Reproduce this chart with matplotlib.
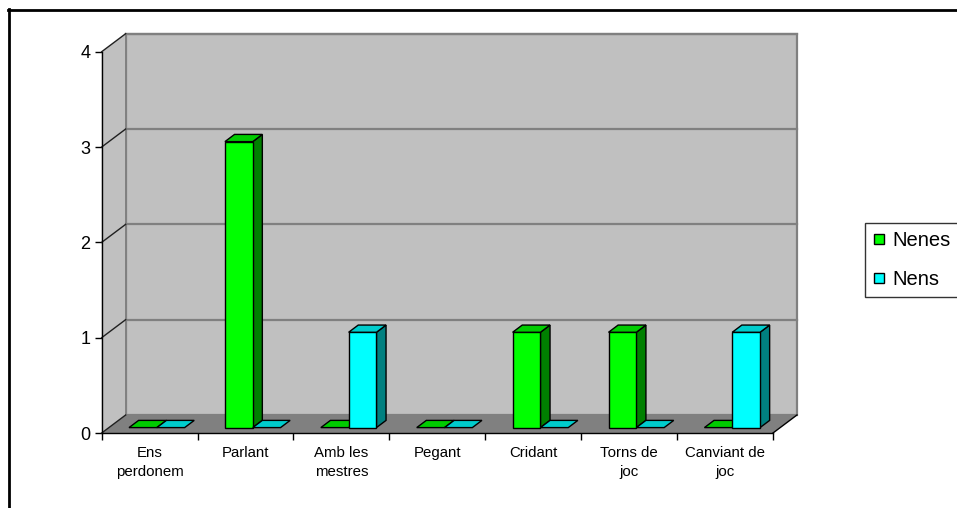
import matplotlib
matplotlib.use("Agg")
import matplotlib.pyplot as plt
from matplotlib.patches import Polygon, Rectangle
from matplotlib.lines import Line2D

plt.rcParams["font.family"] = ["Liberation Sans", "DejaVu Sans"]

categories = ["Ens\nperdonem", "Parlant", "Amb les\nmestres", "Pegant",
              "Cridant", "Torns de\njoc", "Canviant de\njoc"]
nenes = [0, 3, 0, 0, 1, 1, 0]
nens = [0, 0, 1, 0, 0, 0, 1]
series = [("Nenes", nenes), ("Nens", nens)]
y_ticks = [0, 1, 2, 3, 4]

# colours: front face, top face, side face
COLORS = {
    "Nenes": ("#00FF00", "#00CC00", "#008000"),
    "Nens": ("#00FFFF", "#00CCCC", "#008080"),
}
WALL = "#C0C0C0"
FLOOR = "#808080"
GRID = "#808080"

DX, DY = 0.25, 0.189      # depth of the box (data units)
F0, F1 = 0.3, 0.7         # bars sit between these depth fractions
BAR_W = 0.29
GAP0 = 0.5 - BAR_W

W, H = 957, 508
fig = plt.figure(figsize=(W / 100, H / 100), dpi=100)
ax = fig.add_axes([101.7 / W, (H - 433) / H, (773 - 101.7) / W, (433 - 51.7) / H])
n = len(categories)
ymax = y_ticks[-1]
ax.set_xlim(0, n)
ax.set_ylim(0, ymax)
ax.patch.set_visible(False)
for s in ("top", "right"):
    ax.spines[s].set_visible(False)
ax.spines["left"].set_linewidth(1.0)
ax.spines["bottom"].set_linewidth(1.0)
ax.spines["left"].set_zorder(6)
ax.spines["bottom"].set_zorder(6)


def poly(pts, fc, ec="black", lw=1.0, z=2):
    ax.add_patch(Polygon(pts, closed=True, facecolor=fc, edgecolor=ec,
                         linewidth=lw, zorder=z, clip_on=False,
                         joinstyle="miter"))


# back wall, side wall, floor
ax.add_patch(Rectangle((DX, DY), n, ymax, facecolor=WALL, edgecolor=GRID,
                       linewidth=1.6, zorder=1, clip_on=False))
poly([(0, 0), (DX, DY), (DX, ymax + DY), (0, ymax)], WALL, ec="none", z=1)
poly([(0, 0), (n, 0), (n + DX, DY), (DX, DY)], FLOOR, ec="none", z=1.5)
for t in y_ticks:
    if t > 0:
        ax.plot([DX, n + DX], [t + DY, t + DY], color=GRID, lw=1.6,
                zorder=1.2, clip_on=False)
    ax.plot([0, DX], [t, t + DY], color="#202020", lw=1.0, zorder=1.6,
            clip_on=False)
ax.plot([DX, DX], [DY, ymax + DY], color=GRID, lw=1.4, zorder=1.3, clip_on=False)
ax.plot([n, n + DX], [0, DY], color="black", lw=1.0, zorder=1.6, clip_on=False)

# bars
b0 = F0 * DY
ddx, ddy = (F1 - F0) * DX, (F1 - F0) * DY
for i in range(n):
    for k, (name, vals) in enumerate(series):
        front, top, side = COLORS[name]
        v = vals[i]
        x0 = i + GAP0 + k * BAR_W + F0 * DX
        x1 = x0 + BAR_W
        yt = b0 + v
        if v > 0:
            poly([(x1, b0), (x1 + ddx, b0 + ddy), (x1 + ddx, yt + ddy), (x1, yt)], side, z=3)
            poly([(x0, b0), (x1, b0), (x1, yt), (x0, yt)], front, z=3)
        poly([(x0, yt), (x1, yt), (x1 + ddx, yt + ddy), (x0 + ddx, yt + ddy)], top, z=3)

# axes ticks
ax.set_yticks(y_ticks)
ax.tick_params(axis="y", direction="out", length=4.7, width=1.0, pad=3.5,
               labelsize=13)
ax.set_xticks(range(n + 1))
ax.set_xticklabels([])
ax.tick_params(axis="x", which="major", direction="out", length=5, width=1.0)
ax.set_xticks([i + 0.5 for i in range(n)], minor=True)
ax.set_xticklabels(categories, minor=True, fontsize=10.8, linespacing=1.42)
ax.tick_params(axis="x", which="minor", length=0, pad=9.5)

# legend
handles = [Line2D([0], [0], marker="s", ls="", markersize=7.5,
                  markerfacecolor=COLORS[name][0], markeredgecolor="black",
                  markeredgewidth=1.0, label=name) for name, _ in series]
leg = fig.legend(handles=handles, loc="upper left",
                 bbox_to_anchor=(865 / W, 1 - 223 / H), fontsize=14.5,
                 frameon=True, fancybox=False, borderpad=0.42,
                 labelspacing=0.95, handlelength=0.55, handletextpad=0.4,
                 borderaxespad=0)
leg.get_frame().set_edgecolor("black")
leg.get_frame().set_linewidth(1.0)

# outer chart border (top and left visible)
fig.add_artist(Line2D([8 / W, 1], [1 - 10 / H, 1 - 10 / H], color="black",
                      lw=2.0, transform=fig.transFigure))
fig.add_artist(Line2D([9 / W, 9 / W], [1 - 9 / H, 0], color="black",
                      lw=2.0, transform=fig.transFigure))

fig.savefig("out.png", dpi=100)
